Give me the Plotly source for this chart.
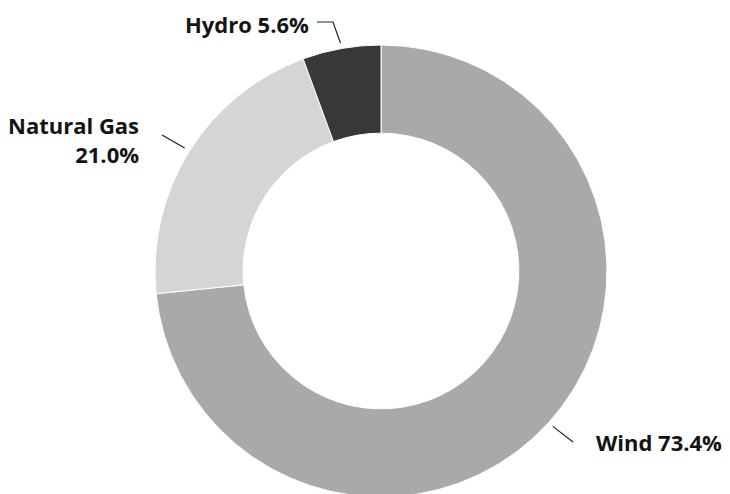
import math
import plotly.graph_objects as go

sources = ["Wind", "Natural Gas", "Hydro"]
shares = [73.4, 21.0, 5.6]
label_text = ["Wind 73.4%", "Natural Gas<br>21.0%", "Hydro 5.6%"]
colors = ["#a9a9a9", "#d5d5d5", "#383838"]

W, H = 730, 494
OFF = 8  # page body margin, positions below are measured on screen
cx, cy, R = 381 - OFF, 271 - OFF, 226  # pie centre / radius in px

# label anchor (screen px), side, elbow point of the leader
label_pos = {
    "Wind": dict(x=594, y=442, xanchor="left", align="left", knee=(573, 442)),
    "Natural Gas": dict(x=141, y=139, xanchor="right", align="right", knee=(162, 135)),
    "Hydro": dict(x=311, y=24, xanchor="right", align="left", knee=(333, 22)),
}


def px(x, y):
    return (x - OFF) / W, 1 - (y - OFF) / H


fig = go.Figure()
fig.add_trace(go.Pie(
    labels=sources,
    values=shares,
    textposition="none",
    sort=False,
    direction="clockwise",
    rotation=0,
    hole=0.61,
    marker=dict(colors=colors, line=dict(color="white", width=1)),
    showlegend=False,
    hoverinfo="label+percent",
    domain=dict(x=[(cx - R) / W, (cx + R) / W],
                y=[(H - cy - R) / H, (H - cy + R) / H]),
))

total = sum(shares)
start = 0.0
for name, val, txt in zip(sources, shares, label_text):
    mid = (start + val / 2) / total * 2 * math.pi
    start += val
    r = R * 1.025
    # slice edge point in screen px
    ex = cx + OFF + r * math.sin(mid)
    ey = cy + OFF - r * math.cos(mid)
    p = label_pos[name]
    kx, ky = p["knee"]
    pts = [(kx, ky), (ex, ey)]
    if name == "Hydro":
        pts.insert(0, (kx - 16, ky))
    pts = [px(a, b) for a, b in pts]
    d = "M " + " L ".join(f"{a:.4f},{b:.4f}" for a, b in pts)
    fig.add_shape(type="path", path=d, xref="paper", yref="paper",
                  line=dict(color="#222222", width=1.2))
    ax_, ay_ = px(p["x"], p["y"])
    fig.add_annotation(
        x=ax_, y=ay_, xref="paper", yref="paper",
        text=txt, showarrow=False,
        xanchor=p["xanchor"], yanchor="middle", align=p["align"],
        font=dict(family="Open Sans, sans-serif", size=22, color="#141414", weight="bold"),
    )

fig.update_layout(
    width=W,
    height=H,
    margin=dict(l=0, r=0, t=0, b=0),
    paper_bgcolor="white",
    plot_bgcolor="white",
)

fig.write_html("out.html")
